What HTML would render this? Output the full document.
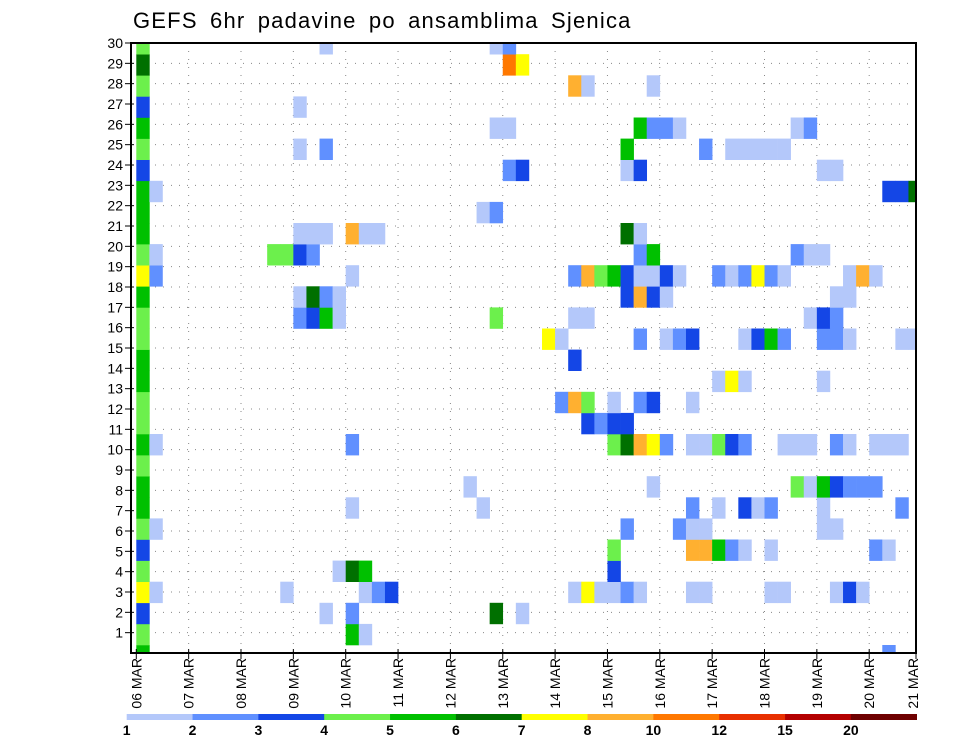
<!DOCTYPE html>
<html><head><meta charset="utf-8"><style>
html,body{margin:0;padding:0;background:#fff;}
svg{display:block;font-family:"Liberation Sans",sans-serif;}
</style></head>
<body>
<svg id="chart" width="960" height="742" viewBox="0 0 960 742" xmlns="http://www.w3.org/2000/svg">
<text x="133" y="28" font-size="22" letter-spacing="1.2" word-spacing="5" fill="#000">GEFS 6hr padavine po ansamblima Sjenica</text>
<g id="grid"></g><g id="cells"></g><g id="axes"></g><g id="legend"></g>
</svg>
<script>
const dayLabels = ["06 MAR","07 MAR","08 MAR","09 MAR","10 MAR","11 MAR","12 MAR","13 MAR","14 MAR","15 MAR","16 MAR","17 MAR","18 MAR","19 MAR","20 MAR","21 MAR"];
const memberTicks = [1,2,3,4,5,6,7,8,9,10,11,12,13,14,15,16,17,18,19,20,21,22,23,24,25,26,27,28,29,30];
const levels = [1,2,3,4,5,6,7,8,10,12,15,20];
const levelColors = ["#b4c8fa","#6090ff","#1446e6","#6cf04c","#00c000","#007000","#ffff00","#ffb030","#ff7800","#e83000","#b40000","#6e0000"];
// precip[member] = list of [6h step, mm]
const precip = [
 [[0,5.5],[57,2.5]],
 [[0,4.5],[16,5.5],[17,1.5]],
 [[0,3.5],[14,1.5],[16,2.5],[27,6.5],[29,1.5]],
 [[0,7.5],[1,1.5],[11,1.5],[17,1.5],[18,2.5],[19,3.5],[33,1.5],[34,7.5],[35,1.5],[36,1.5],[37,2.5],[38,1.5],[42,1.5],[43,1.5],[48,1.5],[49,1.5],[53,1.5],[54,3.5],[55,1.5]],
 [[0,4.5],[15,1.5],[16,6.5],[17,5.5],[36,3.5]],
 [[0,3.5],[36,4.5],[42,9],[43,9],[44,5.5],[45,2.5],[46,1.5],[48,1.5],[56,2.5],[57,1.5]],
 [[0,4.5],[1,1.5],[37,2.5],[41,2.5],[42,1.5],[43,1.5],[52,1.5],[53,1.5]],
 [[0,5.5],[16,1.5],[26,1.5],[42,2.5],[44,1.5],[46,3.5],[47,1.5],[48,2.5],[52,1.5],[58,2.5]],
 [[0,5.5],[25,1.5],[39,1.5],[50,4.5],[51,1.5],[52,5.5],[53,3.5],[54,2.5],[55,2.5],[56,2.5]],
 [[0,4.5]],
 [[0,5.5],[1,1.5],[16,2.5],[36,4.5],[37,6.5],[38,9],[39,7.5],[40,2.5],[42,1.5],[43,1.5],[44,4.5],[45,3.5],[46,2.5],[49,1.5],[50,1.5],[51,1.5],[53,2.5],[54,1.5],[56,1.5],[57,1.5],[58,1.5]],
 [[0,4.5],[34,3.5],[35,2.5],[36,3.5],[37,3.5]],
 [[0,4.5],[32,2.5],[33,9],[34,4.5],[36,1.5],[38,2.5],[39,3.5],[42,1.5]],
 [[0,5.5],[44,1.5],[45,7.5],[46,1.5],[52,1.5]],
 [[0,5.5],[33,3.5]],
 [[0,4.5],[31,7.5],[32,1.5],[38,2.5],[40,1.5],[41,2.5],[42,3.5],[46,1.5],[47,3.5],[48,5.5],[49,2.5],[52,2.5],[53,2.5],[54,1.5],[58,1.5],[59,1.5]],
 [[0,4.5],[12,2.5],[13,3.5],[14,5.5],[15,1.5],[27,4.5],[33,1.5],[34,1.5],[51,1.5],[52,3.5],[53,2.5]],
 [[0,5.5],[12,1.5],[13,6.5],[14,2.5],[15,1.5],[37,3.5],[38,9],[39,3.5],[40,1.5],[53,1.5],[54,1.5]],
 [[0,7.5],[1,2.5],[16,1.5],[33,2.5],[34,9],[35,4.5],[36,5.5],[37,3.5],[38,1.5],[39,1.5],[40,3.5],[41,1.5],[44,2.5],[45,1.5],[46,2.5],[47,7.5],[48,2.5],[49,1.5],[54,1.5],[55,9],[56,1.5]],
 [[0,4.5],[1,1.5],[10,4.5],[11,4.5],[12,3.5],[13,2.5],[38,2.5],[39,5.5],[50,2.5],[51,1.5],[52,1.5]],
 [[0,5.5],[12,1.5],[13,1.5],[14,1.5],[16,9],[17,1.5],[18,1.5],[37,6.5],[38,1.5]],
 [[0,5.5],[26,1.5],[27,2.5]],
 [[0,5.5],[1,1.5],[57,3.5],[58,3.5],[59,6.5]],
 [[0,3.5],[28,2.5],[29,3.5],[37,1.5],[38,3.5],[52,1.5],[53,1.5]],
 [[0,4.5],[12,1.5],[14,2.5],[37,5.5],[43,2.5],[45,1.5],[46,1.5],[47,1.5],[48,1.5],[49,1.5]],
 [[0,5.5],[27,1.5],[28,1.5],[38,5.5],[39,2.5],[40,2.5],[41,1.5],[50,1.5],[51,2.5]],
 [[0,3.5],[12,1.5]],
 [[0,4.5],[33,9],[34,1.5],[39,1.5]],
 [[0,6.5],[28,11],[29,7.5]],
 [[0,4.5],[14,1.5],[27,1.5],[28,2.5]]
];

const NS="http://www.w3.org/2000/svg";
const L=131, R=916, T=43, B=653;
const x0=136.3, dayW=52.35, stepW=dayW/4;
const cellH=21.1;
function xStep(s){return x0+s*stepW;}
function xDay(d){return x0+d*dayW;}
function yTick(k){return B-(B-T)/30*k;}
function yCellTop(m){return 645-cellH*m;}
function colorOf(v){let c=-1;for(let i=0;i<levels.length;i++){if(v>=levels[i])c=i;}return c<0?null:levelColors[c];}
function mk(tag,attrs,parent){const e=document.createElementNS(NS,tag);for(const k in attrs)e.setAttribute(k,attrs[k]);parent.appendChild(e);return e;}

const grid=document.getElementById('grid');
for(let d=1;d<dayLabels.length;d++){const x=xDay(d);if(x>=R)continue;
 const ln=mk('line',{x1:x,x2:x,y1:T,y2:B,stroke:'#888','stroke-width':1,'stroke-dasharray':'1,7'},grid);
 
 }
memberTicks.forEach(k=>{const y=yTick(k);if(y<=T+1)return;
 const ln=mk('line',{x1:L,x2:R,y1:y,y2:y,stroke:'#888','stroke-width':1,'stroke-dasharray':'1,7'},grid);
 
 });

const cells=document.getElementById('cells');
const cp=mk('clipPath',{id:'clip'},cells);
mk('rect',{x:L,y:T,width:R-L,height:B-T},cp);
const cg=mk('g',{'clip-path':'url(#clip)'},cells);
precip.forEach((row,m)=>{row.forEach(([s,v])=>{const col=colorOf(v);if(!col)return;
 const r=mk('rect',{x:xStep(s),y:yCellTop(m),width:stepW+0.3,height:cellH+0.3,fill:col},cg);
 
 });});

const axes=document.getElementById('axes');
const fr=mk('rect',{x:L,y:T,width:R-L,height:B-T,fill:'none',stroke:'#000','stroke-width':2},axes);


memberTicks.forEach(k=>{const y=yTick(k);
 mk('line',{x1:L-6,x2:L+3,y1:y,y2:y,stroke:'#000','stroke-width':1},axes);
 const t=mk('text',{x:L-8,y:y+5,'font-size':14,'text-anchor':'end',fill:'#000'},axes);
 t.textContent=k;
 
 });
dayLabels.forEach((lab,d)=>{let x=xDay(d);if(x>R)x=R;
 mk('line',{x1:x,x2:x,y1:B-4,y2:B+6,stroke:'#000','stroke-width':1},axes);
 const tx=Math.min(x,R-3)+5;
 const t=mk('text',{transform:`translate(${tx},658) rotate(-90)`,'font-size':14,'text-anchor':'end',fill:'#000','xml:space':'preserve'},axes);
 t.textContent=lab.replace(' ','  ');
 
 });

const leg=document.getElementById('legend');
const lx0=126.7, lw=(916.7-126.7)/levels.length;
levels.forEach((lv,i)=>{
 const r=mk('rect',{x:lx0+i*lw,y:714,width:lw+0.3,height:6,fill:levelColors[i]},leg);
 
 
 const t=mk('text',{x:lx0+i*lw,y:735,'font-size':14,'font-weight':'bold','text-anchor':'middle',fill:'#000'},leg);
 t.textContent=lv;
 
 });
</script>
</body></html>
